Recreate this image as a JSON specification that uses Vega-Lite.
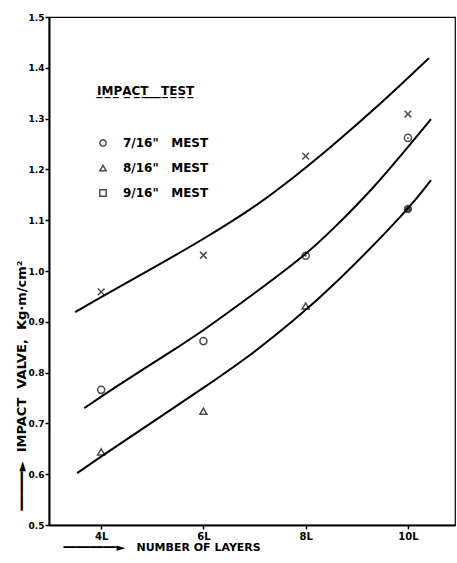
{
  "$schema": "https://vega.github.io/schema/vega-lite/v6.json",
  "width": 406,
  "height": 508,
  "autosize": {"type": "none"},
  "padding": {"left": 49, "top": 17, "right": 2, "bottom": 38},
  "background": "white",
  "config": {
    "view": {"stroke": "black", "strokeWidth": 1.2},
    "font": "DejaVu Sans",
    "axis": {"domainColor": "black", "domainWidth": 2, "tickColor": "black", "tickWidth": 1.5, "grid": false, "labelColor": "black", "titleColor": "black", "labelFont": "DejaVu Sans", "labelFontWeight": "bold", "titleFont": "DejaVu Sans", "titleFontWeight": "bold"},
    "legend": {"labelFont": "DejaVu Sans", "titleFont": "DejaVu Sans"}
  },
  "datasets": {
    "curves": [
      {"series": "9/16", "layers": 3.49, "value": 0.919},
      {"series": "9/16", "layers": 4.0, "value": 0.949},
      {"series": "9/16", "layers": 4.98, "value": 1.004},
      {"series": "9/16", "layers": 5.96, "value": 1.060},
      {"series": "9/16", "layers": 6.94, "value": 1.122},
      {"series": "9/16", "layers": 7.53, "value": 1.165},
      {"series": "9/16", "layers": 8.51, "value": 1.245},
      {"series": "9/16", "layers": 9.5, "value": 1.332},
      {"series": "9/16", "layers": 10.41, "value": 1.419},
      {"series": "7/16", "layers": 3.67, "value": 0.730},
      {"series": "7/16", "layers": 4.25, "value": 0.770},
      {"series": "7/16", "layers": 5.47, "value": 0.848},
      {"series": "7/16", "layers": 5.96, "value": 0.880},
      {"series": "7/16", "layers": 7.0, "value": 0.956},
      {"series": "7/16", "layers": 7.98, "value": 1.030},
      {"series": "7/16", "layers": 8.51, "value": 1.080},
      {"series": "7/16", "layers": 9.29, "value": 1.159},
      {"series": "7/16", "layers": 10.0, "value": 1.244},
      {"series": "7/16", "layers": 10.45, "value": 1.299},
      {"series": "8/16", "layers": 3.53, "value": 0.602},
      {"series": "8/16", "layers": 4.0, "value": 0.635},
      {"series": "8/16", "layers": 4.98, "value": 0.701},
      {"series": "8/16", "layers": 5.96, "value": 0.767},
      {"series": "8/16", "layers": 6.94, "value": 0.835},
      {"series": "8/16", "layers": 7.78, "value": 0.904},
      {"series": "8/16", "layers": 8.51, "value": 0.967},
      {"series": "8/16", "layers": 10.02, "value": 1.122},
      {"series": "8/16", "layers": 10.45, "value": 1.179}
    ],
    "marked": [
      {"series": "7/16\"\u00a0\u00a0\u00a0MEST", "layers": 4, "value": 0.766},
      {"series": "7/16\"\u00a0\u00a0\u00a0MEST", "layers": 6, "value": 0.862},
      {"series": "7/16\"\u00a0\u00a0\u00a0MEST", "layers": 8, "value": 1.030},
      {"series": "7/16\"\u00a0\u00a0\u00a0MEST", "layers": 10, "value": 1.262},
      {"series": "8/16\"\u00a0\u00a0\u00a0MEST", "layers": 4, "value": 0.644},
      {"series": "8/16\"\u00a0\u00a0\u00a0MEST", "layers": 6, "value": 0.724},
      {"series": "8/16\"\u00a0\u00a0\u00a0MEST", "layers": 8, "value": 0.931}
    ],
    "crosses": [
      {"series": "9/16", "layers": 4, "value": 0.959},
      {"series": "9/16", "layers": 6, "value": 1.031},
      {"series": "9/16", "layers": 8, "value": 1.226},
      {"series": "9/16", "layers": 10, "value": 1.309}
    ],
    "solid": [
      {"series": "8/16", "layers": 10, "value": 1.122}
    ],
    "centred": [
      {"series": "7/16", "layers": 8, "value": 1.030},
      {"series": "7/16", "layers": 10, "value": 1.262}
    ]
  },
  "encoding": {
    "x": {
      "field": "layers", "type": "quantitative",
      "scale": {"domain": [2.98, 10.92], "nice": false, "zero": false},
      "axis": {
        "values": [4, 6, 8, 10], "labelExpr": "datum.value + 'L'", "labelFontSize": 10, "tickSize": 4, "labelPadding": 2,
        "title": "━━━━━━━━►\u00a0\u00a0\u00a0NUMBER\u00a0OF\u00a0LAYERS", "titleFontSize": 11, "titleX": 14, "titleY": 22, "titleAlign": "left", "titleBaseline": "middle"
      }
    },
    "y": {
      "field": "value", "type": "quantitative",
      "scale": {"domain": [0.5, 1.5], "nice": false, "zero": false},
      "axis": {
        "values": [0.5, 0.6, 0.7, 0.8, 0.9, 1.0, 1.1, 1.2, 1.3, 1.4, 1.5], "format": ".1f", "labelFontSize": 9, "tickSize": 4, "labelPadding": 1,
        "title": "━━━━━►\u00a0\u00a0IMPACT\u00a0\u00a0VALVE,\u00a0\u00a0Kg·m/cm²", "titleFontSize": 13, "titleAngle": -90, "titleX": -28, "titleY": 493, "titleAlign": "left", "titleBaseline": "middle"
      }
    }
  },
  "layer": [
    {
      "data": {"name": "curves"},
      "mark": {"type": "line", "interpolate": "basis", "color": "black", "strokeWidth": 2},
      "encoding": {"detail": {"field": "series"}}
    },
    {
      "data": {"name": "marked"},
      "mark": {"type": "point", "filled": false, "color": "black", "strokeWidth": 1.5, "size": 50},
      "encoding": {
        "shape": {
          "field": "series", "type": "nominal",
          "scale": {"domain": ["7/16\"\u00a0\u00a0\u00a0MEST", "8/16\"\u00a0\u00a0\u00a0MEST", "9/16\"\u00a0\u00a0\u00a0MEST"], "range": ["circle", "triangle-up", "square"]},
          "legend": {
            "title": "I̲M̲P̲A̲C̲T̲ ̲ ̲ ̲T̲E̲S̲T̲", "orient": "none", "legendX": 48, "legendY": 69,
            "titleFontSize": 12, "titleFontWeight": "bold", "titleColor": "black", "titlePadding": 39,
            "labelFontSize": 12, "labelFontWeight": "bold", "labelColor": "black", "labelOffset": 14,
            "rowPadding": 12, "symbolSize": 40, "symbolStrokeColor": "black", "symbolFillColor": "white", "symbolStrokeWidth": 1.5,
            "padding": 0
          }
        }
      }
    },
    {
      "data": {"name": "crosses"},
      "mark": {"type": "point", "shape": "M-1,-1L1,1M-1,1L1,-1", "filled": false, "color": "black", "strokeWidth": 1.5, "size": 45}
    },
    {
      "data": {"name": "solid"},
      "mark": {"type": "point", "shape": "circle", "filled": true, "color": "black", "size": 70}
    },
    {
      "data": {"name": "centred"},
      "mark": {"type": "point", "shape": "circle", "filled": true, "color": "black", "size": 4}
    }
  ]
}
